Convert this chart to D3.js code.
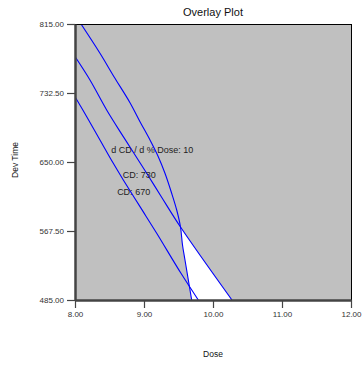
<!DOCTYPE html>
<html>
<head>
<meta charset="utf-8">
<script src="https://cdn.jsdelivr.net/npm/d3@7"></script>
<style>
  html, body { margin: 0; padding: 0; background: #fff; }
  svg { display: block; font-family: "Liberation Sans", Arial, sans-serif; }
</style>
</head>
<body>
<svg id="chart" width="362" height="365"></svg>
<script>
// ---- data ----
const xTicks = [8.00, 9.00, 10.00, 11.00, 12.00];
const yTicks = [485.00, 567.50, 650.00, 732.50, 815.00];
const contourNames = ["d CD / d % Dose: 10", "CD: 730", "CD: 670"];
// d CD / d % Dose = 10 contour (dose, dev time)
const slopeDose = [8.087, 8.362, 8.565, 8.797, 8.942, 9.087, 9.207, 9.304, 9.401, 9.474, 9.529, 9.558, 9.594, 9.691];
const slopeTime = [815.0, 780.0, 752.0, 720.9, 698.2, 676.3, 656.3, 636.5, 612.6, 592.6, 572.3, 550.8, 532.8, 485.0];
// CD = 730 contour
const cd730Dose = [8.000, 8.217, 8.459, 8.700, 9.039, 9.251, 9.529, 10.275];
const cd730Time = [776.0, 748.0, 712.2, 680.3, 636.5, 608.5, 572.3, 485.0];
// CD = 670 contour
const cd670Dose = [8.000, 8.170, 8.362, 8.555, 8.700, 8.942, 9.184, 9.536, 9.787];
const cd670Time = [728.1, 704.2, 676.3, 648.4, 628.5, 596.6, 564.8, 516.9, 485.0];
// label anchor positions (dose, dev time) for contour labels
const labelDose = [9.12, 8.93, 8.85];
const labelTime = [664.0, 634.0, 613.0];

// ---- layout ----
const svg = d3.select("#chart");
const L = 75, R = 351, T = 24, B = 300;
const x = d3.scaleLinear().domain([8, 12]).range([L, R]);
const y = d3.scaleLinear().domain([485, 815]).range([B, T]);

const zip = (a, b) => a.map((v, i) => [v, b[i]]);
const slopePts = zip(slopeDose, slopeTime);
const c730Pts = zip(cd730Dose, cd730Time);
const c670Pts = zip(cd670Dose, cd670Time);

const line = d3.line().x(d => x(d[0])).y(d => y(d[1])).curve(d3.curveCatmullRom.alpha(0.5));

const defs = svg.append("defs");
defs.append("clipPath").attr("id", "plotClip")
  .append("rect").attr("x", L).attr("y", T).attr("width", R - L).attr("height", B - T);
// region left of CD 730 contour
defs.append("clipPath").attr("id", "leftOf730")
  .append("path")
  .attr("d", line(c730Pts) + "L" + x(8) + "," + y(485) + "Z");

// background
svg.append("rect").attr("x", L).attr("y", T).attr("width", R - L).attr("height", B - T)
  .attr("fill", "#c0c0c0");

// white feasible region: right of slope contour and left of CD 730
svg.append("path")
  .attr("d", line(slopePts) + "L" + x(12) + "," + y(485) + "L" + x(12) + "," + y(815) + "Z")
  .attr("fill", "#ffffff")
  .attr("clip-path", "url(#leftOf730)");

// contour lines
const g = svg.append("g").attr("clip-path", "url(#plotClip)");
[slopePts, c730Pts, c670Pts].forEach(pts => {
  g.append("path").attr("d", line(pts))
    .attr("fill", "none").attr("stroke", "#0000ff").attr("stroke-width", 1.1);
});

// contour labels
contourNames.forEach((t, i) => {
  svg.append("text")
    .attr("x", x(labelDose[i])).attr("y", y(labelTime[i]))
    .attr("text-anchor", "middle").attr("dominant-baseline", "middle")
    .attr("font-size", 9).attr("fill", "#222")
    .text(t);
});

// frame: top and right thin black
svg.append("line").attr("x1", L).attr("x2", R).attr("y1", T + 0.5).attr("y2", T + 0.5)
  .attr("stroke", "#000").attr("stroke-width", 1);
svg.append("line").attr("x1", R + 0.5).attr("x2", R + 0.5).attr("y1", T).attr("y2", B)
  .attr("stroke", "#000").attr("stroke-width", 1);

// axes
const xAxis = d3.axisBottom(x).tickValues(xTicks).tickFormat(d3.format(".2f"))
  .tickSize(8).tickSizeOuter(0).tickPadding(3);
const yAxis = d3.axisLeft(y).tickValues(yTicks).tickFormat(d3.format(".2f"))
  .tickSize(8).tickSizeOuter(0).tickPadding(3);

const gx = svg.append("g").attr("transform", `translate(0,${B})`).call(xAxis);
const gy = svg.append("g").attr("transform", `translate(${L},0)`).call(yAxis);
[gx, gy].forEach(ga => {
  ga.select(".domain").attr("stroke", "#444").attr("stroke-width", 2.5);
  ga.selectAll(".tick line").attr("stroke", "#444").attr("stroke-width", 1.2);
  ga.selectAll(".tick text").attr("fill", "#333").attr("font-size", 8)
    .attr("font-family", "'Liberation Sans', Arial, sans-serif");
});

// title and axis titles
svg.append("text").attr("x", (L + R) / 2).attr("y", 16)
  .attr("text-anchor", "middle").attr("font-size", 11).attr("fill", "#111")
  .text("Overlay Plot");
svg.append("text").attr("x", (L + R) / 2).attr("y", 357)
  .attr("text-anchor", "middle").attr("font-size", 8.5).attr("fill", "#111")
  .text("Dose");
svg.append("text").attr("transform", "translate(18,160) rotate(-90)")
  .attr("text-anchor", "middle").attr("font-size", 8.5).attr("fill", "#111")
  .text("Dev Time");
</script>
</body>
</html>
